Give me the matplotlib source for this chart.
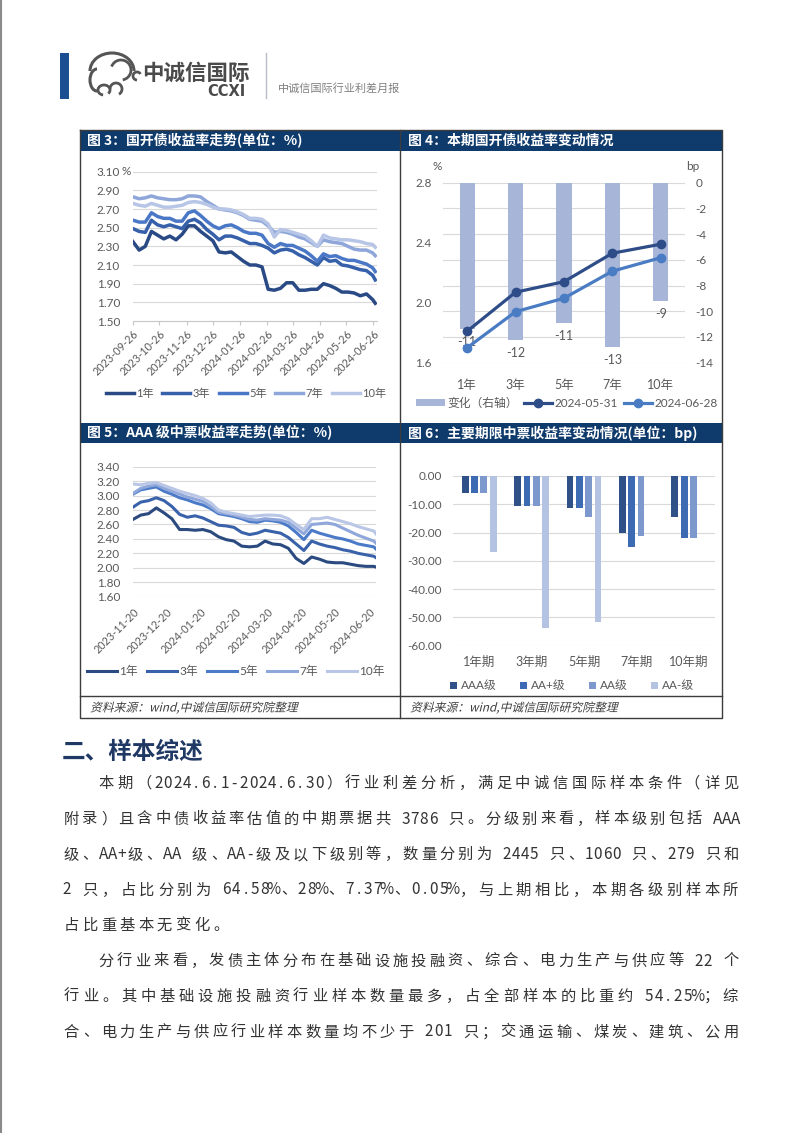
import numpy as np
import pandas as pd
import matplotlib
matplotlib.use('Agg')
import matplotlib.pyplot as plt
import matplotlib.dates as mdates
from matplotlib.patches import Rectangle, Arc, PathPatch
from matplotlib.textpath import TextPath
from matplotlib.font_manager import FontProperties
from matplotlib.transforms import Affine2D
from matplotlib.ticker import FormatStrFormatter

plt.rcParams['font.family'] = ['Lato', 'Noto Sans CJK SC', 'DejaVu Sans']
plt.rcParams['axes.unicode_minus'] = False

# ---------------- data ----------------
# 图3 国开债收益率(%), roughly weekly readings
cdb_dates = list(pd.date_range('2023-09-26', periods=40, freq='7D')) + [pd.Timestamp('2024-06-28')]
cdb_1y = [2.35, 2.26, 2.30, 2.46, 2.42, 2.38, 2.41, 2.37, 2.43, 2.52, 2.52, 2.46, 2.41, 2.36,
          2.24, 2.23, 2.24, 2.19, 2.14, 2.10, 2.10, 2.08, 1.84, 1.83, 1.85, 1.91, 1.91, 1.83,
          1.83, 1.84, 1.84, 1.90, 1.88, 1.85, 1.81, 1.81, 1.80, 1.77, 1.79, 1.73, 1.69]
cdb_3y = [2.49, 2.46, 2.45, 2.58, 2.53, 2.51, 2.53, 2.51, 2.49, 2.57, 2.59, 2.55, 2.48, 2.43,
          2.37, 2.41, 2.41, 2.39, 2.36, 2.33, 2.33, 2.31, 2.28, 2.23, 2.26, 2.27, 2.25, 2.21,
          2.18, 2.14, 2.10, 2.18, 2.14, 2.15, 2.10, 2.09, 2.07, 2.05, 2.04, 1.99, 1.94]
cdb_5y = [2.58, 2.56, 2.56, 2.66, 2.62, 2.60, 2.60, 2.57, 2.57, 2.66, 2.68, 2.63, 2.57, 2.52,
          2.49, 2.52, 2.53, 2.50, 2.46, 2.44, 2.44, 2.42, 2.33, 2.29, 2.33, 2.31, 2.31, 2.28,
          2.25, 2.20, 2.14, 2.22, 2.19, 2.20, 2.17, 2.15, 2.15, 2.13, 2.11, 2.07, 2.03]
cdb_7y = [2.83, 2.81, 2.82, 2.84, 2.82, 2.81, 2.80, 2.80, 2.81, 2.84, 2.84, 2.83, 2.78, 2.74,
          2.70, 2.69, 2.68, 2.66, 2.63, 2.59, 2.58, 2.57, 2.52, 2.45, 2.46, 2.45, 2.43, 2.40,
          2.38, 2.34, 2.30, 2.37, 2.35, 2.34, 2.33, 2.30, 2.27, 2.26, 2.26, 2.23, 2.20]
cdb_10y = [2.76, 2.74, 2.73, 2.76, 2.74, 2.72, 2.72, 2.73, 2.74, 2.77, 2.78, 2.77, 2.75, 2.72,
           2.70, 2.70, 2.69, 2.67, 2.64, 2.60, 2.60, 2.59, 2.54, 2.40, 2.48, 2.47, 2.45, 2.43,
           2.41, 2.36, 2.30, 2.42, 2.39, 2.38, 2.37, 2.37, 2.36, 2.35, 2.33, 2.32, 2.29]
cdb_labels = ['1年', '3年', '5年', '7年', '10年']

# 图4 本期国开债收益率变动
tenors = ['1年', '3年', '5年', '7年', '10年']
cdb_0531 = [1.81, 2.07, 2.14, 2.33, 2.39]
cdb_0628 = [1.70, 1.94, 2.03, 2.21, 2.30]
cdb_chg = [-11.4, -12.2, -10.9, -12.8, -9.2]

# 图5 AAA级中票收益率(%)
mtn_dates = list(pd.date_range('2023-11-20', periods=32, freq='7D')) + [pd.Timestamp('2024-06-26')]
mtn_1y = [2.67, 2.73, 2.75, 2.83, 2.76, 2.68, 2.53, 2.53, 2.52, 2.53, 2.50, 2.43, 2.39, 2.37,
          2.30, 2.29, 2.30, 2.37, 2.33, 2.32, 2.27, 2.13, 2.06, 2.15, 2.12, 2.08, 2.07, 2.07,
          2.05, 2.03, 2.02, 2.02, 2.01]
mtn_3y = [2.84, 2.91, 2.93, 2.97, 2.93, 2.85, 2.74, 2.70, 2.72, 2.69, 2.64, 2.59, 2.58, 2.56,
          2.49, 2.46, 2.48, 2.52, 2.50, 2.48, 2.42, 2.33, 2.24, 2.37, 2.33, 2.30, 2.28, 2.25,
          2.23, 2.20, 2.18, 2.16, 2.14]
mtn_5y = [3.02, 3.08, 3.10, 3.12, 3.06, 3.02, 2.97, 2.94, 2.90, 2.87, 2.82, 2.75, 2.73, 2.71,
          2.68, 2.64, 2.63, 2.66, 2.65, 2.63, 2.58, 2.49, 2.39, 2.52, 2.48, 2.45, 2.42, 2.40,
          2.37, 2.33, 2.31, 2.29, 2.26]
mtn_7y = [3.03, 3.10, 3.13, 3.15, 3.10, 3.06, 3.02, 2.98, 2.95, 2.92, 2.85, 2.77, 2.75, 2.73,
          2.70, 2.67, 2.66, 2.68, 2.67, 2.66, 2.63, 2.55, 2.47, 2.60, 2.61, 2.62, 2.60, 2.55,
          2.50, 2.45, 2.41, 2.37, 2.34]
mtn_10y = [3.16, 3.15, 3.17, 3.18, 3.14, 3.10, 3.06, 3.03, 3.00, 2.96, 2.90, 2.80, 2.77, 2.75,
           2.73, 2.71, 2.72, 2.73, 2.73, 2.72, 2.68, 2.60, 2.53, 2.68, 2.68, 2.70, 2.67, 2.64,
           2.61, 2.57, 2.54, 2.51, 2.47]

# 图6 主要期限中票收益率变动(bp)
terms = ['1年期', '3年期', '5年期', '7年期', '10年期']
chg_aaa = [-5.9, -10.5, -11.4, -20.0, -14.6]
chg_aap = [-5.9, -10.5, -11.4, -25.0, -21.8]
chg_aa = [-5.9, -10.5, -14.4, -21.1, -21.8]
chg_aam = [-26.9, -53.7, -51.6, np.nan, np.nan]
grade_labels = ['AAA级', 'AA+级', 'AA级', 'AA-级']

# ---------------- page ----------------
W, H = 802, 1133
fig = plt.figure(figsize=(W / 100, H / 100), dpi=100)
fig.patch.set_facecolor('white')

bg = fig.add_axes([0, 0, 1, 1])
bg.set_xlim(0, W)
bg.set_ylim(H, 0)
bg.axis('off')


def px_axes(x0, y0, x1, y1):
    ax = fig.add_axes([x0 / W, 1 - y1 / H, (x1 - x0) / W, (y1 - y0) / H])
    ax.set_facecolor('none')
    return ax


NAVY = '#0f3a6c'
TICK = '#595959'
GRID = '#d9d9d9'

# header
bg.plot([0.8, 0.8], [0, H], color='#8a8a8a', lw=1.5)
bg.add_patch(Rectangle((60, 52.5), 9, 46, color='#1b4f91', lw=0))
logo_c = '#555555'
bg.add_patch(Arc((112, 71), 44, 36, theta1=180, theta2=360, color=logo_c, lw=2.2))
bg.add_patch(Arc((97, 80), 14, 22, theta1=90, theta2=270, color=logo_c, lw=2.2))
bg.add_patch(Arc((121, 70), 20, 20, theta1=200, theta2=440, color=logo_c, lw=2.0))
bg.add_patch(Arc((104, 90), 12, 10, theta1=100, theta2=400, color=logo_c, lw=2.0))
bg.add_patch(Arc((116, 89), 12, 12, theta1=180, theta2=420, color=logo_c, lw=2.0))
bg.add_patch(Arc((137, 76), 8, 8, theta1=90, theta2=330, color=logo_c, lw=2.0))
bg.text(142, 73, '中诚信国际', fontsize=15.5, fontweight='bold', color='#4a4a4a',
        va='center', ha='left', family=['Noto Sans CJK SC'])
bg.text(245, 91, 'CCXI', fontsize=10.5, fontweight='bold', color='#4a4a4a',
        va='center', ha='right', family=['DejaVu Sans'])
bg.plot([265.5, 265.5], [53, 98], color='#b8bcc6', lw=1)
bg.text(278, 88, '中诚信国际行业利差月报', fontsize=8, color='#808080',
        va='center', ha='left', family=['Noto Sans CJK SC'])

# figure frame
FL, FR, FT, FB = 80, 722, 130, 718
for (x0, x1, y0, y1) in [(80, 400, 131, 151), (400, 722, 131, 151),
                         (80, 400, 423, 443), (400, 722, 423, 443)]:
    bg.add_patch(Rectangle((x0, y0), x1 - x0, y1 - y0, color=NAVY, lw=0))
fc = '#3c3c3c'
bg.plot([FL, FR, FR, FL, FL], [FT, FT, FB, FB, FT], color=fc, lw=1)
bg.plot([400, 400], [FT, FB], color=fc, lw=1)
bg.plot([FL, FR], [696, 696], color=fc, lw=1)

titles = [(87, 141, '图 3：国开债收益率走势(单位：%)'),
          (408, 141, '图 4：本期国开债收益率变动情况'),
          (87, 433, '图 5：AAA 级中票收益率走势(单位：%)'),
          (408, 433, '图 6：主要期限中票收益率变动情况(单位：bp)')]
for x, y, s in titles:
    bg.text(x, y, s, color='white', fontsize=10, fontweight='bold', va='center', ha='left',
            family=['Noto Sans CJK SC'])


def italic_text(x, y, s, size, color):
    fp = FontProperties(family='Noto Sans CJK SC', size=size)
    tp = TextPath((0, 0), s, prop=fp)
    tr = Affine2D().skew_deg(14, 0).scale(100 / 72).translate(x, H - y)
    fig.add_artist(PathPatch(tp, transform=tr, color=color, lw=0))


italic_text(90, 711.5, '资料来源：wind,中诚信国际研究院整理', 8.5, '#404040')
italic_text(410, 711.5, '资料来源：wind,中诚信国际研究院整理', 8.5, '#404040')

# ---------------- 图3 ----------------
ax3 = px_axes(133, 171.7, 377, 321)
cols3 = ['#2a4a86', '#3760aa', '#4a78c6', '#8ea6d9', '#b7c5e6']
for vals, c, lab in zip([cdb_1y, cdb_3y, cdb_5y, cdb_7y, cdb_10y], cols3, cdb_labels):
    ax3.plot(cdb_dates, vals, color=c, lw=2.5, label=lab)
ax3.set_ylim(1.5, 3.1)
ax3.set_yticks(np.arange(1.5, 3.11, 0.2))
ax3.yaxis.set_major_formatter(FormatStrFormatter('%.2f'))
ax3.set_xlim(pd.Timestamp('2023-09-26'), pd.Timestamp('2024-06-30'))
ax3.xaxis.set_major_locator(mdates.MonthLocator(bymonthday=26))
ax3.xaxis.set_major_formatter(mdates.DateFormatter('%Y-%m-%d'))
ax3.grid(axis='y', color=GRID, lw=0.8)
ax3.set_axisbelow(True)
for s in ['top', 'left', 'right']:
    ax3.spines[s].set_visible(False)
ax3.spines['bottom'].set_color('#c8c8c8')
ax3.tick_params(axis='y', length=0, pad=9.4, labelsize=8.5, labelcolor=TICK)
ax3.tick_params(axis='x', length=3, color='#c8c8c8', pad=2, labelsize=7.8, labelcolor=TICK)
plt.setp(ax3.get_xticklabels(), rotation=45, ha='right', rotation_mode='anchor')
bg.text(122, 171.7, '%', fontsize=8.5, color=TICK, va='center', ha='left')
ax3.legend(ncol=5, loc='center', bbox_to_anchor=(246 / W, 1 - 393 / H),
           bbox_transform=fig.transFigure, frameon=False, fontsize=8, labelcolor=TICK,
           handlelength=2.5, handletextpad=0.2, columnspacing=0.8)

# ---------------- 图4 ----------------
x4 = np.arange(len(tenors))
ax4 = px_axes(443, 182.7, 685, 362.7)
bars4 = ax4.bar(x4, cdb_chg, width=0.31, color='#a7b6d8', label='变化（右轴）')
for xi, v in zip(x4, cdb_chg):
    ax4.annotate(f'{v:.0f}', (xi, v), xytext=(0, -5), textcoords='offset points',
                 ha='center', va='top', fontsize=9, color=TICK)
ax4l = ax4.twinx()
ax4.yaxis.tick_right()
ax4l.yaxis.tick_left()
ax4.set_ylim(-14, 0)
ax4.set_yticks(range(-14, 1, 2))
ax4.set_xlim(-0.5, 4.5)
ax4.set_xticks(x4, tenors)
ax4.grid(axis='y', color=GRID, lw=0.8)
ax4.set_axisbelow(True)
l1, = ax4l.plot(x4, cdb_0531, color='#2e4d88', lw=2.3, marker='o', ms=6, label='2024-05-31')
l2, = ax4l.plot(x4, cdb_0628, color='#4a7cc4', lw=2.3, marker='o', ms=6, label='2024-06-28')
ax4l.set_ylim(1.6, 2.8)
ax4l.set_yticks([1.6, 2.0, 2.4, 2.8])
ax4l.yaxis.set_major_formatter(FormatStrFormatter('%.1f'))
for a in (ax4, ax4l):
    for s in a.spines.values():
        s.set_visible(False)
ax4.tick_params(axis='y', length=0, pad=7.5, labelsize=8.5, labelcolor=TICK)
ax4.tick_params(axis='x', length=0, pad=12, labelsize=9, labelcolor=TICK)
ax4l.tick_params(axis='y', length=0, pad=8, labelsize=8.5, labelcolor=TICK)
bg.text(437, 167, '%', fontsize=8.5, color=TICK, va='center', ha='center')
bg.text(693, 166, 'bp', fontsize=8.5, color=TICK, va='center', ha='center')
ax4l.legend(handles=[bars4, l1, l2], ncol=3, loc='center',
            bbox_to_anchor=(567 / W, 1 - 403 / H), bbox_transform=fig.transFigure,
            frameon=False, fontsize=8.5, labelcolor=TICK, handlelength=2.4,
            handleheight=0.6, handletextpad=0.2, columnspacing=0.5)

# ---------------- 图5 ----------------
ax5 = px_axes(133, 466.7, 376, 596.7)
cols5 = ['#2a4a80', '#3a62aa', '#4b7bc8', '#8fa7da', '#b9c6e6']
for vals, c, lab in zip([mtn_1y, mtn_3y, mtn_5y, mtn_7y, mtn_10y], cols5, cdb_labels):
    ax5.plot(mtn_dates, vals, color=c, lw=2.2, label=lab)
ax5.set_ylim(1.6, 3.4)
ax5.set_yticks(np.arange(1.6, 3.41, 0.2))
ax5.yaxis.set_major_formatter(FormatStrFormatter('%.2f'))
ax5.set_xlim(pd.Timestamp('2023-11-20'), pd.Timestamp('2024-06-26'))
ax5.xaxis.set_major_locator(mdates.MonthLocator(bymonthday=20))
ax5.xaxis.set_major_formatter(mdates.DateFormatter('%Y-%m-%d'))
ax5.grid(axis='y', color=GRID, lw=0.8)
ax5.set_axisbelow(True)
for s in ax5.spines.values():
    s.set_visible(False)
ax5.tick_params(axis='y', length=0, pad=9.4, labelsize=8.5, labelcolor=TICK)
ax5.tick_params(axis='x', length=0, pad=7, labelsize=7.8, labelcolor=TICK)
plt.setp(ax5.get_xticklabels(), rotation=45, ha='right', rotation_mode='anchor')
ax5.legend(ncol=5, loc='center', bbox_to_anchor=(236 / W, 1 - 671 / H),
           bbox_transform=fig.transFigure, frameon=False, fontsize=8.5, labelcolor=TICK,
           handlelength=2.5, handletextpad=0.2, columnspacing=0.8)

# ---------------- 图6 ----------------
ax6 = px_axes(453, 476, 715, 645.7)
x6 = np.arange(len(terms))
cols6 = ['#2f5188', '#3d6bb3', '#7c98cd', '#b5c3e2']
for k, (vals, c, lab) in enumerate(zip([chg_aaa, chg_aap, chg_aa, chg_aam], cols6, grade_labels)):
    ax6.bar(x6 + (k - 1.5) * 0.178, vals, width=0.13, color=c, label=lab)
ax6.set_ylim(-60, 0)
ax6.set_yticks(range(-60, 1, 10))
ax6.yaxis.set_major_formatter(FormatStrFormatter('%.2f'))
ax6.set_xlim(-0.5, 4.5)
ax6.set_xticks(x6, terms)
ax6.grid(axis='y', color=GRID, lw=0.8)
ax6.set_axisbelow(True)
for s in ax6.spines.values():
    s.set_visible(False)
ax6.tick_params(axis='y', length=0, pad=8, labelsize=8.5, labelcolor=TICK)
ax6.tick_params(axis='x', length=0, pad=7, labelsize=9, labelcolor=TICK)
ax6.legend(ncol=4, loc='center', bbox_to_anchor=(572 / W, 1 - 686 / H),
           bbox_transform=fig.transFigure, frameon=False, fontsize=8.5, labelcolor=TICK,
           handlelength=0.6, handleheight=0.6, handletextpad=0.3, columnspacing=2.0)

# ---------------- body text ----------------
bg.text(62, 752, '二、样本综述', fontsize=17, fontweight='bold', color='#1f3864',
        va='center', ha='left', family=['Noto Sans CJK SC'])

body_lines = [
    (97, 782, '本期（2024.6.1-2024.6.30）行业利差分析，满足中诚信国际样本条件（详见', True),
    (62, 817.5, '附录）且含中债收益率估值的中期票据共 3786 只。分级别来看，样本级别包括 AAA', True),
    (62, 853, '级、AA+级、AA 级、AA-级及以下级别等，数量分别为 2445 只、1060 只、279 只和', True),
    (62, 888.5, '2 只，占比分别为 64.58%、28%、7.37%、0.05%，与上期相比，本期各级别样本所', True),
    (62, 924, '占比重基本无变化。', False),
    (97, 959.5, '分行业来看，发债主体分布在基础设施投融资、综合、电力生产与供应等 22 个', True),
    (62, 995, '行业。其中基础设施投融资行业样本数量最多，占全部样本的比重约 54.25%；综', True),
    (62, 1030.5, '合、电力生产与供应行业样本数量均不少于 201 只；交通运输、煤炭、建筑、公用', True),
]
left_p = '，。、：；）'
right_p = '（'
for x0, yc, s, just in body_lines:
    wts = [0.5 if ord(ch) < 128 else 1.0 for ch in s]
    u = (740 - x0) / sum(wts) if just else 18.6
    pos = x0
    yb = yc + 6
    for ch, w in zip(s, wts):
        if ch != ' ':
            if ch in left_p:
                xx, ha = pos + 0.12 * u, 'left'
            elif ch in right_p:
                xx, ha = pos + w * u - 0.12 * u, 'right'
            else:
                xx, ha = pos + w * u / 2, 'center'
            bg.text(xx, yb, ch, fontsize=11, color='#333333', ha=ha, va='baseline',
                    family=['Noto Sans CJK SC'])
        pos += w * u

fig.savefig('out.png', dpi=100)
